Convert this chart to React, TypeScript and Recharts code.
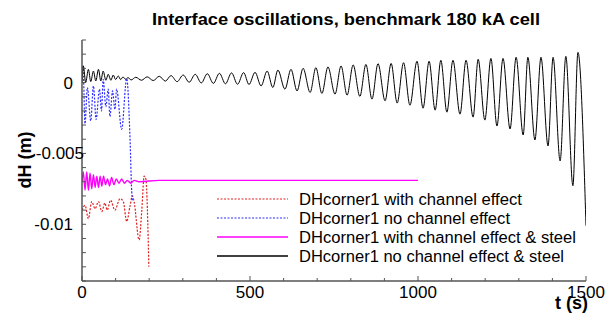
import React from 'react';
import { LineChart, Line, XAxis, YAxis } from 'recharts';

// time (s) / dH (m), one pair per extremum
const blackT = [
  0, 4, 11, 19, 26, 34, 41, 49, 56, 63, 71, 78, 86, 93, 100, 108, 115, 122, 130, 137, 146,
  160, 177, 194, 212, 230, 248, 265, 283, 301, 319, 337, 355, 373, 391, 409, 427, 445, 463, 481, 497,
  515, 533, 551, 568, 583, 604, 622, 640, 658, 679, 696, 714, 732, 753, 771, 789, 807, 827, 845, 863, 881, 902, 920, 938, 957, 976,
  997, 1015, 1033, 1051, 1068, 1086, 1104, 1125, 1143, 1164, 1179, 1199, 1217, 1235, 1253, 1274, 1292, 1313, 1327, 1348, 1366, 1387, 1402, 1423, 1440, 1461, 1476, 1500,
];
const blackV = [
  0, 0.00117, 0.0, 0.00093, 0.00007, 0.00081, 0.00011, 0.00093, 0.00011, 0.00081, 0.00016, 0.00058, 0.00016, 0.00053, 0.00021, 0.00046, 0.00021, 0.00039, 0.00023, 0.00035, 0.00018,
  0.00037, 0.00016, 0.0004, 0.00014, 0.00044, 0.0001, 0.00049, 0.00006, 0.00053, 0.00002, 0.00058, -0.00003, 0.00062, -0.00006, 0.00065, -0.00009, 0.00068, -0.00012, 0.0007, -0.00014,
  0.00072, -0.00024, 0.00081, -0.00035, 0.00088, -0.00047, 0.00093, -0.00059, 0.001, -0.0007, 0.00105, -0.00077, 0.0011, -0.00082, 0.00117, -0.00089, 0.00124, -0.00098, 0.00128, -0.00117, 0.00133, -0.00129, 0.00135, -0.00145, 0.0014, -0.0016,
  0.0015, -0.00181, 0.0015, -0.00195, 0.00157, -0.00209, 0.00157, -0.00223, 0.00157, -0.00244, 0.00164, -0.00265, 0.0017, -0.00307, 0.0017, -0.00328, 0.00178, -0.0037, 0.00178, -0.00405, 0.00178, -0.00447, 0.00178, -0.00553, 0.00185, -0.00728, 0.00213, -0.0101,
];

const blueT = [0, 3, 9, 16, 26, 34, 42, 52, 58, 63, 71, 78, 83, 91, 98, 103, 118, 133, 143, 148, 150];
const blueV = [
  0.0002, 0.0012, -0.0029, -0.00035, -0.0027, -0.00024, -0.0026, -0.00047, -0.002, 0.00023, -0.0017,
  -0.00047, -0.0024, -0.00059, -0.0019, -0.00047, -0.0033, 0.00028, -0.004, -0.0077, -0.0083,
];

const redT = [0, 9, 19, 29, 39, 49, 59, 68, 75, 85, 98, 113, 123, 133, 143, 150, 155, 170, 178, 185, 190, 199];
const redV = [
  -0.009, -0.00867, -0.0096, -0.0084, -0.0089, -0.0084, -0.0091, -0.0085, -0.009, -0.0083, -0.009,
  -0.0082, -0.0084, -0.0098, -0.0087, -0.008, -0.0084, -0.0111, -0.009, -0.0066, -0.0068, -0.013,
];

const magentaT = [0, 4, 9, 14, 19, 24, 29, 34, 39, 44, 49, 54, 59, 64, 70, 76, 82, 88, 95, 102, 110, 118, 126, 135, 145, 155, 170, 230, 300, 1000];
const magentaV = [
  -0.007, -0.0063, -0.0076, -0.0063, -0.0076, -0.0064, -0.0075, -0.0065, -0.0074, -0.0066, -0.0074,
  -0.0066, -0.0073, -0.0066, -0.0072, -0.0068, -0.0073, -0.0067, -0.0072, -0.0068, -0.0071, -0.0068,
  -0.0071, -0.0069, -0.0071, -0.0069, -0.007, -0.0069, -0.0069, -0.0069,
];

const xTicks = [0, 100, 200, 300, 400, 500, 600, 700, 800, 900, 1000, 1100, 1200, 1300, 1400, 1500];
const xLabelled = [0, 500, 1000, 1500];
const yTicks = [0.003, 0.002, 0.001, 0, -0.001, -0.002, -0.003, -0.004, -0.005, -0.006, -0.007, -0.008, -0.009, -0.01, -0.011, -0.012, -0.013, -0.014];
const yLabels = [
  { v: 0, text: '0' },
  { v: -0.005, text: '-0.005' },
  { v: -0.01, text: '-0.01' },
];

const legendNames = [
  'DHcorner1 with channel effect',
  'DHcorner1 no channel effect',
  'DHcorner1 with channel effect & steel',
  'DHcorner1 no channel effect & steel',
];
const legendColors = ['#e02020', '#2f2fff', '#ff00ff', '#000000'];

const zip = (t: number[], v: number[]) => t.map((x, i) => ({ t: x, v: v[i] }));

const FONT = '"Liberation Sans", Arial, sans-serif';
const AXIS = '#555';

const XTick = (props: any) => {
  const { x, y, payload } = props;
  const major = xLabelled.includes(payload.value);
  return (
    <g>
      <line x1={x} x2={x} y1={y} y2={y - (major ? 5 : 3)} stroke={AXIS} strokeWidth={1} />
      {major && (
        <text x={x} y={y + 17} textAnchor="middle" fontSize={17} fontFamily={FONT} fill="#000">
          {payload.value}
        </text>
      )}
    </g>
  );
};

const YTick = (props: any) => {
  const { x, y, payload } = props;
  const lab = yLabels.find(l => Math.abs(l.v - payload.value) < 1e-9);
  // the -0.005 label sits further right in the original
  const end = lab && lab.v === -0.005 ? x + 2 : x - 9;
  return (
    <g>
      <line x1={x} x2={x + 4} y1={y} y2={y} stroke={AXIS} strokeWidth={1} />
      {lab && (
        <text x={end} y={y + 6} textAnchor="end" fontSize={17} fontFamily={FONT} fill="#000">
          {lab.text}
        </text>
      )}
    </g>
  );
};

const legendWidths = [223, 211, 277, 265];

export default function App() {
  return (
    <div style={{ position: 'absolute', left: 0, top: 0, width: 608, height: 313, background: '#fff' }}>
      <LineChart width={608} height={313} margin={{ top: 40, right: 22, bottom: 0, left: 0 }}>
        <XAxis
          type="number"
          dataKey="t"
          domain={[0, 1500]}
          ticks={xTicks}
          interval={0}
          allowDataOverflow
          height={32}
          tickSize={0}
          tickMargin={0}
          tickLine={false}
          axisLine={{ stroke: AXIS, strokeWidth: 1.5 }}
          tick={<XTick />}
        />
        <YAxis
          type="number"
          domain={[-0.014, 0.003]}
          ticks={yTicks}
          interval={0}
          allowDataOverflow
          width={82}
          tickSize={0}
          tickMargin={0}
          tickLine={false}
          axisLine={{ stroke: AXIS, strokeWidth: 1.5 }}
          tick={<YTick />}
        />
        <Line data={zip(redT, redV)} dataKey="v" type="monotone" stroke={legendColors[0]} strokeWidth={1.2} strokeDasharray="2 1.5" dot={false} isAnimationActive={false} />
        <Line data={zip(blueT, blueV)} dataKey="v" type="monotone" stroke={legendColors[1]} strokeWidth={1.2} strokeDasharray="2 1.5" dot={false} isAnimationActive={false} />
        <Line data={zip(magentaT, magentaV)} dataKey="v" type="monotone" stroke={legendColors[2]} strokeWidth={1.4} dot={false} isAnimationActive={false} />
        <Line data={zip(blackT, blackV)} dataKey="v" type="monotone" stroke={legendColors[3]} strokeWidth={1} dot={false} isAnimationActive={false} />
      </LineChart>

      <svg width={608} height={313} style={{ position: 'absolute', left: 0, top: 0, pointerEvents: 'none' }}>
        <text x={346} y={25} textAnchor="middle" fontSize={16} fontWeight="bold" fontFamily={FONT} textLength={388} lengthAdjust="spacingAndGlyphs">
          Interface oscillations, benchmark 180 kA cell
        </text>
        <text transform="translate(31,160) rotate(-90)" textAnchor="middle" fontSize={18} fontWeight="bold" fontFamily={FONT}>
          dH (m)
        </text>
        <text x={588} y={309} textAnchor="end" fontSize={18} fontWeight="bold" fontFamily={FONT}>
          t (s)
        </text>
        {legendNames.map((name, i) => {
          const cy = 199 + i * 19;
          return (
            <g key={name}>
              <line
                x1={217}
                x2={288}
                y1={cy}
                y2={cy}
                stroke={legendColors[i]}
                strokeWidth={i < 2 ? 1.2 : 1.4}
                strokeDasharray={i < 2 ? '2 1.5' : undefined}
              />
              <text x={299} y={cy + 6} fontSize={16} fontFamily={FONT} textLength={legendWidths[i]} lengthAdjust="spacingAndGlyphs">
                {name}
              </text>
            </g>
          );
        })}
      </svg>
    </div>
  );
}
